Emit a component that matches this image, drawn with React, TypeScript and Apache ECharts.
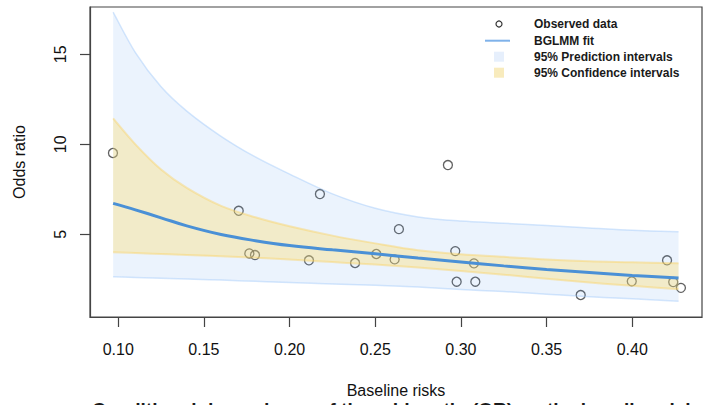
import React, { useEffect, useRef } from "react";
import * as echarts from "echarts";

// Curve sample positions (baseline risk)
const riskX = [0.097, 0.11, 0.125, 0.14, 0.16, 0.18, 0.2, 0.225, 0.25, 0.275, 0.3, 0.325, 0.35, 0.375, 0.4, 0.427];
// BGLMM fit (odds ratio)
const fitOR = [6.72, 6.36, 5.92, 5.47, 4.99, 4.65, 4.38, 4.14, 3.92, 3.69, 3.47, 3.25, 3.05, 2.88, 2.72, 2.57];
// 95% prediction interval
const piUpper = [17.35, 15.1, 13.2, 11.85, 10.45, 9.3, 8.35, 7.25, 6.45, 5.97, 5.74, 5.62, 5.49, 5.36, 5.23, 5.14];
const piLower = [2.64, 2.6, 2.56, 2.52, 2.46, 2.39, 2.32, 2.25, 2.17, 2.07, 1.94, 1.82, 1.68, 1.54, 1.42, 1.29];
// 95% confidence interval
const ciUpper = [11.44, 10.0, 8.6, 7.58, 6.58, 5.95, 5.45, 4.93, 4.5, 4.12, 3.9, 3.75, 3.6, 3.5, 3.45, 3.39];
const ciLower = [4.0, 3.96, 3.91, 3.86, 3.78, 3.7, 3.6, 3.46, 3.32, 3.16, 2.97, 2.76, 2.53, 2.32, 2.14, 1.95];

// Observed data
const obsX = [0.0969, 0.1703, 0.2177, 0.1765, 0.1798, 0.2113, 0.2382, 0.2506, 0.2613, 0.2638, 0.2924, 0.2967, 0.2975, 0.3076, 0.3084, 0.3699, 0.3997, 0.4203, 0.4239, 0.4284];
const obsY = [9.52, 6.31, 7.24, 3.94, 3.85, 3.56, 3.41, 3.91, 3.61, 5.29, 8.85, 4.07, 2.37, 3.39, 2.37, 1.63, 2.39, 3.56, 2.35, 2.03];

// Tick values
const xTicks = [0.1, 0.15, 0.2, 0.25, 0.3, 0.35, 0.4];
const yTicks = [5, 10, 15];

const legendLabels = ["Observed data", "BGLMM fit", "95% Prediction intervals", "95% Confidence intervals"];
const captionText = "Conditional dependence of the odds ratio (OR) on the baseline risks";

const FONT = "'Liberation Sans', Arial, Helvetica, sans-serif";

type Pt = number[];

// Catmull-Rom spline through pixel points, as SVG path commands
function curveCmds(pts: Pt[]): string {
  let d = "";
  for (let i = 0; i < pts.length - 1; i++) {
    const p0 = pts[i - 1] || pts[i];
    const p1 = pts[i];
    const p2 = pts[i + 1];
    const p3 = pts[i + 2] || p2;
    const c1x = p1[0] + (p2[0] - p0[0]) / 6;
    const c1y = p1[1] + (p2[1] - p0[1]) / 6;
    const c2x = p2[0] - (p3[0] - p1[0]) / 6;
    const c2y = p2[1] - (p3[1] - p1[1]) / 6;
    d += ` C ${c1x} ${c1y} ${c2x} ${c2y} ${p2[0]} ${p2[1]}`;
  }
  return d;
}

function bandSeries(
  name: string,
  upper: number[],
  lower: number[],
  fill: string,
  stroke: string,
  strokeWidth: number,
  z: number
) {
  return {
    name,
    type: "custom",
    z,
    clip: true,
    coordinateSystem: "cartesian2d",
    data: [[riskX[0], upper[0]]],
    renderItem: (_params: any, api: any) => {
      const up = riskX.map((x, i) => api.coord([x, upper[i]]));
      const lo = riskX.map((x, i) => api.coord([x, lower[i]]));
      const loRev = lo.slice().reverse();
      const upPath = `M ${up[0][0]} ${up[0][1]}` + curveCmds(up);
      const loPath = `M ${lo[0][0]} ${lo[0][1]}` + curveCmds(lo);
      const fillPath =
        upPath + ` L ${loRev[0][0]} ${loRev[0][1]}` + curveCmds(loRev) + " Z";
      return {
        type: "group",
        children: [
          { type: "path", shape: { pathData: fillPath }, style: { fill, stroke: "none" } },
          { type: "path", shape: { pathData: upPath }, style: { fill: "none", stroke, lineWidth: strokeWidth } },
          { type: "path", shape: { pathData: loPath }, style: { fill: "none", stroke, lineWidth: strokeWidth } },
        ],
      };
    },
  };
}

export default function App() {
  const ref = useRef<HTMLDivElement>(null);

  useEffect(() => {
    if (!ref.current) return;
    const chart = echarts.init(ref.current, null, { renderer: "svg" });

    const pair = (xs: number[], ys: number[]) => xs.map((x, i) => [x, ys[i]]);
    const legendY = [24, 40.7, 56.7, 72.7];

    chart.setOption({
      animation: false,
      backgroundColor: "#ffffff",
      grid: {
        left: 90,
        right: 1,
        top: 7,
        bottom: 88,
        show: true,
        borderColor: "#444",
        borderWidth: 1.2,
        backgroundColor: "transparent",
      },
      xAxis: {
        type: "value",
        min: 0.0835,
        max: 0.4407,
        splitLine: { show: false },
        axisLine: { show: true, lineStyle: { color: "#444", width: 1.2 } },
        axisTick: { show: true, length: 10, lineStyle: { color: "#444", width: 1.2 }, customValues: xTicks },
        axisLabel: {
          customValues: xTicks,
          formatter: (v: number) => v.toFixed(2),
          fontSize: 16,
          color: "#111",
          margin: 24,
          fontFamily: FONT,
        },
        name: "Baseline risks",
        nameLocation: "middle",
        nameGap: 65,
        nameTextStyle: { fontSize: 16, color: "#111", fontFamily: FONT },
      },
      yAxis: {
        type: "value",
        min: 0.41,
        max: 17.63,
        splitLine: { show: false },
        axisLine: { show: true, lineStyle: { color: "#444", width: 1.2 } },
        axisTick: { show: true, length: 10, lineStyle: { color: "#444", width: 1.2 }, customValues: yTicks },
        axisLabel: {
          customValues: yTicks,
          rotate: 90,
          fontSize: 16,
          color: "#111",
          margin: 22,
          fontFamily: FONT,
        },
        name: "Odds ratio",
        nameLocation: "middle",
        nameGap: 63,
        nameTextStyle: { fontSize: 16, color: "#111", fontFamily: FONT },
      },
      series: [
        {
          name: "Observed data",
          type: "scatter",
          z: 1,
          data: pair(obsX, obsY),
          symbol: "circle",
          symbolSize: 9,
          itemStyle: { color: "rgba(0,0,0,0)", borderColor: "#383838", borderWidth: 1.3 },
        },
        bandSeries(
          "95% Prediction intervals",
          piUpper,
          piLower,
          "rgba(100,160,240,0.13)",
          "rgba(150,195,250,0.4)",
          1.5,
          2
        ),
        bandSeries(
          "95% Confidence intervals",
          ciUpper,
          ciLower,
          "rgba(255,220,104,0.35)",
          "rgba(250,210,100,0.45)",
          2,
          3
        ),
        {
          name: "BGLMM fit",
          type: "line",
          z: 4,
          smooth: 0.4,
          showSymbol: false,
          data: pair(riskX, fitOR),
          lineStyle: { color: "#4a90d6", width: 3 },
        },
      ],
      graphic: [
        { type: "circle", shape: { cx: 499, cy: legendY[0], r: 3 }, style: { fill: "none", stroke: "#333", lineWidth: 1.2 } },
        { type: "line", shape: { x1: 485, y1: legendY[1], x2: 510, y2: legendY[1] }, style: { stroke: "#7fb2ea", lineWidth: 2 } },
        { type: "rect", shape: { x: 494, y: legendY[2] - 5, width: 10, height: 10 }, style: { fill: "#e6effc" } },
        { type: "rect", shape: { x: 494, y: legendY[3] - 5, width: 10, height: 10 }, style: { fill: "#f8ebbd" } },
        ...legendLabels.map((t, i) => ({
          type: "text",
          x: 534,
          y: legendY[i],
          style: {
            text: t,
            fontSize: 12,
            fontWeight: "bold",
            fontFamily: FONT,
            fill: "#1a1a1a",
            textVerticalAlign: "middle",
            textAlign: "left",
          },
        })),
        {
          type: "text",
          x: 92,
          y: 400,
          style: {
            text: captionText,
            fontSize: 19,
            fontWeight: "bold",
            fontFamily: FONT,
            fill: "#1a1a1a",
            textVerticalAlign: "top",
            textAlign: "left",
          },
        },
      ],
    });

    return () => chart.dispose();
  }, []);

  return (
    <div
      ref={ref}
      style={{ position: "fixed", left: 0, top: 0, width: 703, height: 405, background: "#fff" }}
    />
  );
}
